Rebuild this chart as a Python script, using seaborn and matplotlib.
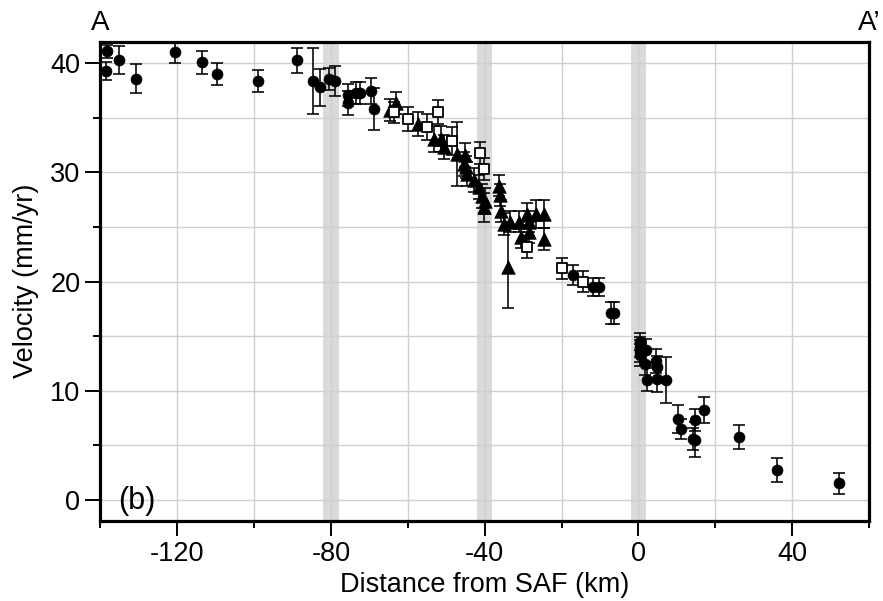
import matplotlib
matplotlib.use("Agg")
import matplotlib.pyplot as plt
import seaborn as sns
import pandas as pd
import numpy as np

# ---------------- data ----------------
circ_x = [-138.4, -138.5, -135.1, -130.7, -120.7, -113.5, -109.8, -98.9, -88.9, -84.8,
          -83.0, -80.4, -78.9, -75.5, -75.5, -73.5, -72.4, -69.6, -68.7,
          -17.1, -11.9, -10.2, -7.1, -6.3, 0.3, 0.5, 0.5, 0.3, 2.0, 1.7, 4.6, 4.9,
          2.2, 4.9, 7.1, 10.3, 11.0, 14.6, 14.2, 14.6, 17.1, 26.2, 36.1, 52.3]
circ_y = [41.1, 39.3, 40.3, 38.6, 41.0, 40.1, 39.0, 38.4, 40.3, 38.4,
          37.8, 38.6, 38.4, 37.1, 36.4, 37.3, 37.3, 37.5, 35.8,
          20.6, 19.5, 19.5, 17.1, 17.1, 14.5, 14.0, 13.6, 13.3, 13.7, 12.4, 12.7, 12.2,
          11.0, 11.1, 11.0, 7.4, 6.5, 7.3, 5.6, 5.5, 8.2, 5.8, 2.7, 1.5]
circ_e = [0.6, 0.8, 1.3, 1.3, 0.95, 1.05, 1.0, 1.0, 1.15, 3.0,
          1.7, 1.0, 1.4, 1.0, 1.1, 1.0, 1.0, 1.2, 1.9,
          0.9, 0.8, 0.8, 1.0, 1.0, 0.8, 0.9, 1.0, 1.0, 1.05, 1.0, 1.1, 1.0,
          1.05, 1.2, 2.1, 1.3, 0.9, 1.0, 1.0, 1.6, 1.2, 1.1, 1.1, 1.0]

tri_x = [-64.6, -63.0, -57.4, -53.1, -51.5, -50.6, -47.3, -45.2, -45.4, -44.5,
         -45.0, -42.8, -41.5, -40.6, -39.8, -40.2, -36.3, -36.0, -35.8, -35.0,
         -33.4, -33.9, -31.1, -30.6, -28.9, -28.5, -28.5, -26.7, -24.7, -24.5]
tri_y = [35.7, 36.4, 34.4, 33.1, 33.1, 32.3, 31.7, 31.6, 30.8, 29.9,
         30.5, 29.3, 28.7, 27.8, 27.4, 26.8, 28.8, 27.9, 26.5, 25.3,
         25.5, 21.3, 25.5, 24.1, 26.2, 25.5, 24.5, 26.2, 26.2, 23.9]
tri_e = [1.0, 1.0, 1.1, 1.2, 1.2, 1.1, 2.9, 1.1, 1.1, 1.1,
         1.0, 1.1, 1.1, 1.1, 1.2, 1.3, 1.0, 1.0, 1.0, 1.0,
         1.0, 3.7, 1.0, 1.0, 1.0, 1.0, 1.0, 1.3, 1.3, 1.0]

sq_x = [-63.7, -60.0, -54.9, -52.2, -48.5, -41.3, -40.2, -29.1, -20.0, -14.5]
sq_y = [35.5, 34.9, 34.2, 35.5, 32.9, 31.8, 30.3, 23.2, 21.2, 20.0]
sq_e = [1.0, 1.1, 1.2, 1.1, 1.3, 1.0, 1.0, 1.0, 1.0, 1.0]

fault_x = [-80, -40, 0]
x_major = [-120, -80, -40, 0, 40]
y_major = [0, 10, 20, 30, 40]

# ---------------- figure ----------------
sns.set_theme(style="white")
plt.rcParams['font.family'] = ['Liberation Sans', 'DejaVu Sans']
plt.rcParams['text.color'] = 'black'
plt.rcParams['axes.labelcolor'] = 'black'
plt.rcParams['xtick.color'] = 'black'
plt.rcParams['ytick.color'] = 'black'

fig = plt.figure(figsize=(8.83, 6.01), dpi=100)
ax = fig.add_axes([0.1138, 0.1339, 0.8703, 0.797])

ax.set_xlim(-140, 60)
ax.set_ylim(-1.9, 42.0)

for fx in fault_x:
    ax.axvspan(fx - 2, fx + 2, color='#dadada', lw=0, zorder=0.2)

ax.set_xticks(x_major)
ax.set_xticks(np.arange(-140, 61, 20), minor=True)
ax.set_yticks(y_major)
ax.set_yticks(np.arange(5, 41, 10), minor=True)
ax.set_xticklabels([str(v) for v in x_major])
ax.set_yticklabels([str(v) for v in y_major])
ax.grid(True, which='both', color='#cfcfcf', lw=1.0, zorder=0.3)
ax.set_axisbelow(True)

err_kw = dict(fmt='none', ecolor='black', elinewidth=1.15, capsize=4, capthick=1.15)
ax.errorbar(circ_x, circ_y, yerr=circ_e, zorder=2, **err_kw)
ax.errorbar(tri_x, tri_y, yerr=tri_e, zorder=2, **err_kw)
ax.errorbar(sq_x, sq_y, yerr=sq_e, zorder=2, **err_kw)

dfc = pd.DataFrame({'x': circ_x, 'y': circ_y})
dft = pd.DataFrame({'x': tri_x, 'y': tri_y})
dfs = pd.DataFrame({'x': sq_x, 'y': sq_y})
sns.scatterplot(data=dfc, x='x', y='y', ax=ax, marker='o', s=62, color='black',
                edgecolor='black', linewidth=0.5, zorder=3)
sns.scatterplot(data=dft, x='x', y='y', ax=ax, marker='^', s=95, color='black',
                edgecolor='black', linewidth=0.5, zorder=4)
sns.scatterplot(data=dfs, x='x', y='y', ax=ax, marker='s', s=52, color='white',
                edgecolor='black', linewidth=1.3, zorder=5)

for sp in ax.spines.values():
    sp.set_visible(True)
    sp.set_color('black')
    sp.set_linewidth(2.3)

ax.tick_params(axis='both', which='major', direction='out', length=10.5, width=1.4,
               color='black', labelcolor='black', labelsize=19.5, bottom=True, left=True, pad=4)
ax.tick_params(axis='both', which='minor', direction='out', length=5, width=1.4,
               color='black', bottom=True, left=True)

ax.set_xlabel('Distance from SAF (km)', fontsize=19.5, labelpad=4, color='black')
ax.set_ylabel('Velocity (mm/yr)', fontsize=19.5, labelpad=8, color='black')

ax.text(0.0, 1.012, 'A', transform=ax.transAxes, ha='center', va='bottom', fontsize=20, color='black')
ax.text(1.0, 1.012, 'A\u2019', transform=ax.transAxes, ha='center', va='bottom', fontsize=20, color='black')
ax.text(-135.5, -1.5, '(b)', ha='left', va='bottom', fontsize=22, color='black')

fig.savefig('out.png', dpi=100)
